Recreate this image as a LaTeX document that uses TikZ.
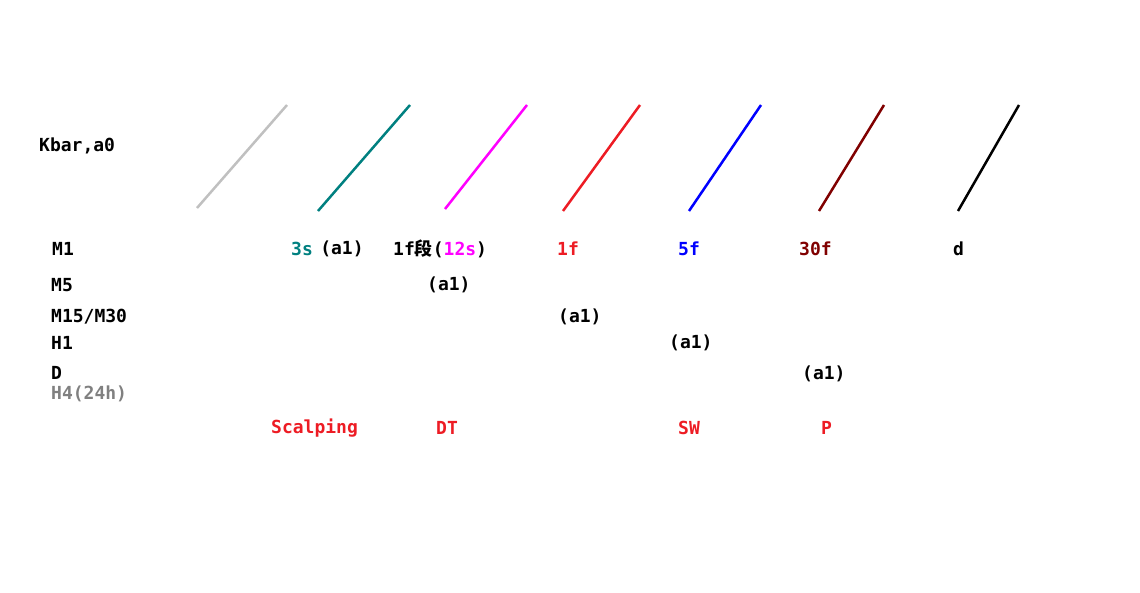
\documentclass[tikz,border=0pt]{standalone}
\usepackage{fontspec}
\setmainfont{DejaVu Sans Mono}
\newfontfamily\cjk{Noto Sans CJK SC}
\usepackage{tikz}
\usetikzlibrary{positioning}
\usepackage{xcolor}
\definecolor{kgray}{RGB}{192,192,192}
\definecolor{kteal}{RGB}{0,128,128}
\definecolor{kmag}{RGB}{255,0,255}
\definecolor{kred}{RGB}{237,28,36}
\definecolor{kblue}{RGB}{0,0,255}
\definecolor{kdark}{RGB}{128,0,0}
\definecolor{kdim}{RGB}{128,128,128}
\tikzset{
  lbl/.style={anchor=west, inner sep=0pt, font=\bfseries\fontsize{18}{18}\selectfont},
  rowlbl/.style={lbl},
  tflbl/.style={lbl},
  stylelbl/.style={lbl, text=kred},
  kline/.style={line width=2.5pt, line cap=butt}
}

\begin{document}
\begin{tikzpicture}[x=1pt, y=-1pt]
\useasboundingbox (0,0) rectangle (1140,592);
% slanted bars
\foreach \xa/\ya/\xb/\c in {197/208/287/kgray, 318/211/410/kteal, 445/209/527/kmag, 563/211/640/kred, 689/211/761/kblue, 819/211/884/kdark, 958/211/1019/black}
  \draw[kline, draw=\c] (\xa,\ya) -- (\xb,105);
\node[lbl] (kbar) at (39,146) {Kbar,a0};
% row labels
\node[rowlbl] (m1) at (52,249) {M1};
\node[rowlbl] (m5) at (51,285) {M5};
\node[rowlbl] (m15) at (51,317) {M15/M30};
\node[rowlbl] (h1) at (51,343) {H1};
\node[rowlbl] (d) at (51,373) {D};
\node[rowlbl, text=kdim] (h4) at (51,394) {H4(24h)};
% timeframes
\node[tflbl, text=kteal] (s3) at (291,249) {3s};
\node[tflbl, right=7pt of s3] (s3a) {(a1)};
\node[tflbl] (f1seg) at (393,249) {1f{\cjk 段}(\textcolor{kmag}{12s})};
\node[tflbl, text=kred] (f1) at (557,249) {1f};
\node[tflbl, text=kblue] (f5) at (678,249) {5f};
\node[tflbl, text=kdark] (f30) at (799,249) {30f};
\node[tflbl] (fd) at (953,249) {d};
\node[tflbl] (a5) at (427,285) {(a1)};
\node[tflbl] (a15) at (558,317) {(a1)};
\node[tflbl] (ah1) at (669,343) {(a1)};
\node[tflbl] (ad) at (802,374) {(a1)};
% trading styles
\node[stylelbl] (scalp) at (271,428) {Scalping};
\node[stylelbl] (dt) at (436,428) {DT};
\node[stylelbl] (sw) at (678,428) {SW};
\node[stylelbl] (p) at (821,428) {P};
\end{tikzpicture}
\end{document}
